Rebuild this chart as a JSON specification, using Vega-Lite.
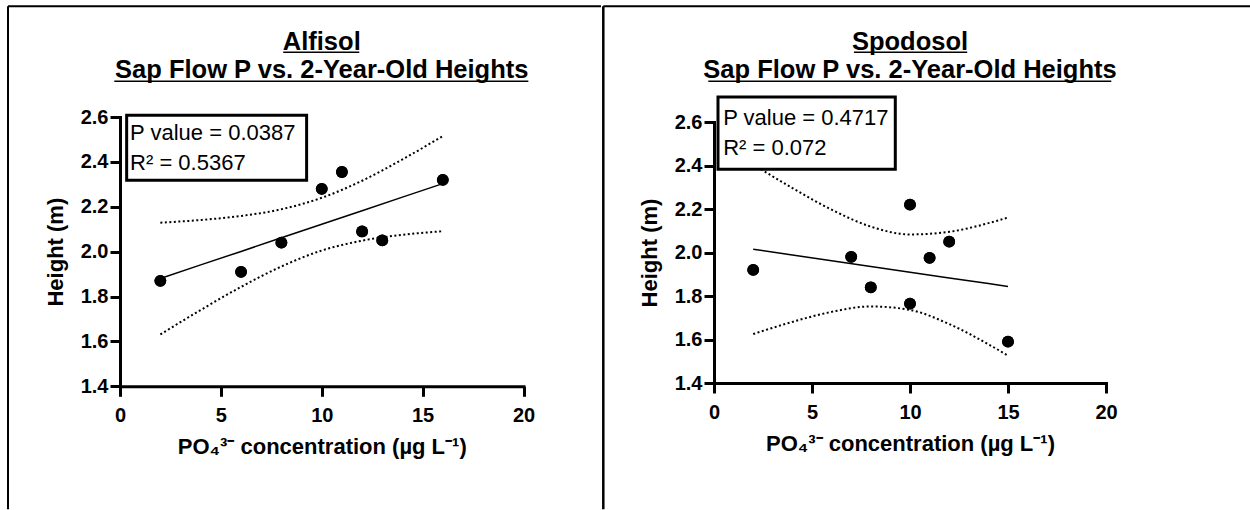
{
  "$schema": "https://vega.github.io/schema/vega-lite/v6.json",
  "padding": {"left": 7, "top": 5, "right": 0, "bottom": 0},
  "background": "white",
  "spacing": 0,
  "config": {
    "view": {"stroke": null},
    "font": "Liberation Sans",
    "axis": {
      "grid": false,
      "domainColor": "black", "domainWidth": 3, "domainCap": "square",
      "tickColor": "black", "tickWidth": 3, "tickSize": 10,
      "labelColor": "black", "labelFont": "Liberation Sans", "labelFontSize": 20, "labelFontWeight": "bold",
      "labelFlush": false, "labelOverlap": false,
      "titleColor": "black", "titleFont": "Liberation Sans", "titleFontSize": 22, "titleFontWeight": "bold"
    },
    "axisX": {"labelPadding": 9, "titlePadding": 11},
    "axisY": {"labelPadding": 2, "titlePadding": 13}
  },
  "datasets": {
    "alf_pts": [
      {"x": 2, "h": 1.87}, {"x": 6, "h": 1.91}, {"x": 8, "h": 2.04}, {"x": 10, "h": 2.28},
      {"x": 11, "h": 2.355}, {"x": 12, "h": 2.09}, {"x": 13, "h": 2.05}, {"x": 16, "h": 2.32}
    ],
    "alf_fit": [
      {"x": 2, "fit": 1.880, "lo": 1.631, "hi": 2.129},
      {"x": 4, "fit": 1.941, "lo": 1.740, "hi": 2.141},
      {"x": 6, "fit": 2.001, "lo": 1.843, "hi": 2.159},
      {"x": 8, "fit": 2.062, "lo": 1.934, "hi": 2.189},
      {"x": 10, "fit": 2.122, "lo": 2.005, "hi": 2.240},
      {"x": 12, "fit": 2.182, "lo": 2.049, "hi": 2.316},
      {"x": 14, "fit": 2.243, "lo": 2.075, "hi": 2.411},
      {"x": 16, "fit": 2.303, "lo": 2.091, "hi": 2.515}
    ],
    "spo_pts": [
      {"x": 2, "h": 1.92}, {"x": 7, "h": 1.98}, {"x": 8, "h": 1.84}, {"x": 10, "h": 2.22},
      {"x": 10, "h": 1.765}, {"x": 11, "h": 1.975}, {"x": 12, "h": 2.05}, {"x": 15, "h": 1.59}
    ],
    "spo_fit": [
      {"x": 2, "fit": 2.015, "lo": 1.625, "hi": 2.405},
      {"x": 4, "fit": 1.988, "lo": 1.681, "hi": 2.296},
      {"x": 6, "fit": 1.962, "lo": 1.727, "hi": 2.197},
      {"x": 8, "fit": 1.936, "lo": 1.752, "hi": 2.119},
      {"x": 10, "fit": 1.909, "lo": 1.736, "hi": 2.083},
      {"x": 12, "fit": 1.883, "lo": 1.671, "hi": 2.095},
      {"x": 14, "fit": 1.857, "lo": 1.578, "hi": 2.135},
      {"x": 15, "fit": 1.844, "lo": 1.526, "hi": 2.161}
    ],
    "one": [{}]
  },
  "hconcat": [
    {
      "width": 403.5,
      "height": 269.3,
      "layer": [
        {
          "data": {"name": "alf_pts"},
          "mark": {"type": "point", "filled": true, "color": "black", "opacity": 1, "size": 140},
          "encoding": {
            "x": {"field": "x", "type": "quantitative", "scale": {"domain": [0, 20]},
                  "axis": {"values": [0, 5, 10, 15, 20], "title": "PO₄³⁻ concentration (µg L⁻¹)"}},
            "y": {"field": "h", "type": "quantitative", "scale": {"domain": [1.4, 2.6]},
                  "axis": {"values": [1.4, 1.6, 1.8, 2.0, 2.2, 2.4, 2.6], "format": ".1f", "title": "Height (m)"}}
          }
        },
        {
          "data": {"name": "one"},
          "mark": {"type": "rule", "color": "black", "strokeWidth": 2},
          "encoding": {
            "x": {"datum": -5.551, "type": "quantitative"},
            "y": {"datum": 3.0933, "type": "quantitative"},
            "y2": {"datum": 0.8518}
          }
        },
        {
          "data": {"name": "one"},
          "mark": {"type": "rule", "color": "black", "strokeWidth": 2},
          "encoding": {
            "x": {"datum": -5.551, "type": "quantitative"},
            "x2": {"datum": 23.84},
            "y": {"datum": 3.0933, "type": "quantitative"}
          }
        },
        {
          "data": {"name": "alf_fit"},
          "mark": {"type": "line", "color": "black", "strokeWidth": 2, "strokeDash": [2, 2.5], "interpolate": "monotone"},
          "encoding": {
            "x": {"field": "x", "type": "quantitative"},
            "y": {"field": "hi", "type": "quantitative"}
          }
        },
        {
          "data": {"name": "alf_fit"},
          "mark": {"type": "line", "color": "black", "strokeWidth": 2, "strokeDash": [2, 2.5], "interpolate": "monotone"},
          "encoding": {
            "x": {"field": "x", "type": "quantitative"},
            "y": {"field": "lo", "type": "quantitative"}
          }
        },
        {
          "data": {"name": "alf_fit"},
          "mark": {"type": "line", "color": "black", "strokeWidth": 1.5},
          "encoding": {
            "x": {"field": "x", "type": "quantitative"},
            "y": {"field": "fit", "type": "quantitative"}
          }
        },
        {
          "data": {"name": "alf_pts"},
          "mark": {"type": "point", "filled": true, "color": "black", "opacity": 1, "size": 140},
          "encoding": {
            "x": {"field": "x", "type": "quantitative"},
            "y": {"field": "h", "type": "quantitative"}
          }
        },
        {
          "data": {"name": "one"},
          "mark": {"type": "rect", "fill": "white", "stroke": "black", "strokeWidth": 3},
          "encoding": {
            "x": {"datum": 0.33, "type": "quantitative"},
            "x2": {"datum": 9.25},
            "y": {"datum": 2.6076, "type": "quantitative"},
            "y2": {"datum": 2.3179}
          }
        },
        {
          "data": {"name": "one"},
          "mark": {"type": "text", "text": ["P value = 0.0387", "R² = 0.5367"], "fontSize": 22, "align": "left", "baseline": "alphabetic", "lineHeight": 30.5, "color": "black"},
          "encoding": {
            "x": {"datum": 0.5, "type": "quantitative"},
            "y": {"datum": 2.4993, "type": "quantitative"}
          }
        },
        {
          "data": {"name": "one"},
          "mark": {"type": "text", "text": ["Alfisol", "Sap Flow P vs. 2-Year-Old Heights"], "fontSize": 25.5, "fontWeight": "bold", "align": "center", "baseline": "alphabetic", "lineHeight": 28.5, "color": "black"},
          "encoding": {
            "x": {"datum": 10, "type": "quantitative"},
            "y": {"datum": 2.8995, "type": "quantitative"}
          }
        },
        {
          "data": {"name": "one"},
          "mark": {"type": "rule", "color": "black", "strokeWidth": 1.5},
          "encoding": {
            "x": {"datum": 8.09, "type": "quantitative"},
            "x2": {"datum": 11.86},
            "y": {"datum": 2.8883, "type": "quantitative"}
          }
        },
        {
          "data": {"name": "one"},
          "mark": {"type": "rule", "color": "black", "strokeWidth": 1.5},
          "encoding": {
            "x": {"datum": -0.283, "type": "quantitative"},
            "x2": {"datum": 20.24},
            "y": {"datum": 2.7591, "type": "quantitative"}
          }
        }
      ]
    },
    {
      "width": 392,
      "height": 266,
      "layer": [
        {
          "data": {"name": "spo_pts"},
          "mark": {"type": "point", "filled": true, "color": "black", "opacity": 1, "size": 140},
          "encoding": {
            "x": {"field": "x", "type": "quantitative", "scale": {"domain": [0, 20]},
                  "axis": {"values": [0, 5, 10, 15, 20], "title": "PO₄³⁻ concentration (µg L⁻¹)"}},
            "y": {"field": "h", "type": "quantitative", "scale": {"domain": [1.4, 2.6], "range": [266, 5]},
                  "axis": {"values": [1.4, 1.6, 1.8, 2.0, 2.2, 2.4, 2.6], "format": ".1f", "title": "Height (m)"}}
          }
        },
        {
          "data": {"name": "one"},
          "mark": {"type": "rule", "color": "black", "strokeWidth": 2.5},
          "encoding": {
            "x": {"datum": -5.648, "type": "quantitative"},
            "y": {"datum": 3.132, "type": "quantitative"},
            "y2": {"datum": 0.8193}
          }
        },
        {
          "data": {"name": "one"},
          "mark": {"type": "rule", "color": "black", "strokeWidth": 2},
          "encoding": {
            "x": {"datum": -5.648, "type": "quantitative"},
            "x2": {"datum": 27.36},
            "y": {"datum": 3.132, "type": "quantitative"}
          }
        },
        {
          "data": {"name": "spo_fit"},
          "mark": {"type": "line", "color": "black", "strokeWidth": 2, "strokeDash": [2, 2.5], "interpolate": "monotone"},
          "encoding": {
            "x": {"field": "x", "type": "quantitative"},
            "y": {"field": "hi", "type": "quantitative"}
          }
        },
        {
          "data": {"name": "spo_fit"},
          "mark": {"type": "line", "color": "black", "strokeWidth": 2, "strokeDash": [2, 2.5], "interpolate": "monotone"},
          "encoding": {
            "x": {"field": "x", "type": "quantitative"},
            "y": {"field": "lo", "type": "quantitative"}
          }
        },
        {
          "data": {"name": "spo_fit"},
          "mark": {"type": "line", "color": "black", "strokeWidth": 1.5},
          "encoding": {
            "x": {"field": "x", "type": "quantitative"},
            "y": {"field": "fit", "type": "quantitative"}
          }
        },
        {
          "data": {"name": "spo_pts"},
          "mark": {"type": "point", "filled": true, "color": "black", "opacity": 1, "size": 140},
          "encoding": {
            "x": {"field": "x", "type": "quantitative"},
            "y": {"field": "h", "type": "quantitative"}
          }
        },
        {
          "data": {"name": "one"},
          "mark": {"type": "rect", "fill": "white", "stroke": "black", "strokeWidth": 3},
          "encoding": {
            "x": {"datum": 0.204, "type": "quantitative"},
            "x2": {"datum": 9.25},
            "y": {"datum": 2.715, "type": "quantitative"},
            "y2": {"datum": 2.3825}
          }
        },
        {
          "data": {"name": "one"},
          "mark": {"type": "text", "text": ["P value = 0.4717", "R² = 0.072"], "fontSize": 22, "align": "left", "baseline": "alphabetic", "lineHeight": 30, "color": "black"},
          "encoding": {
            "x": {"datum": 0.47, "type": "quantitative"},
            "y": {"datum": 2.588, "type": "quantitative"}
          }
        },
        {
          "data": {"name": "one"},
          "mark": {"type": "text", "text": ["Spodosol", "Sap Flow P vs. 2-Year-Old Heights"], "fontSize": 25.5, "fontWeight": "bold", "align": "center", "baseline": "alphabetic", "lineHeight": 28.5, "color": "black"},
          "encoding": {
            "x": {"datum": 10, "type": "quantitative"},
            "y": {"datum": 2.932, "type": "quantitative"}
          }
        },
        {
          "data": {"name": "one"},
          "mark": {"type": "rule", "color": "black", "strokeWidth": 1.5},
          "encoding": {
            "x": {"datum": 7.14, "type": "quantitative"},
            "x2": {"datum": 12.92},
            "y": {"datum": 2.9205, "type": "quantitative"}
          }
        },
        {
          "data": {"name": "one"},
          "mark": {"type": "rule", "color": "black", "strokeWidth": 1.5},
          "encoding": {
            "x": {"datum": -0.29, "type": "quantitative"},
            "x2": {"datum": 20.27},
            "y": {"datum": 2.7871, "type": "quantitative"}
          }
        }
      ]
    }
  ]
}
